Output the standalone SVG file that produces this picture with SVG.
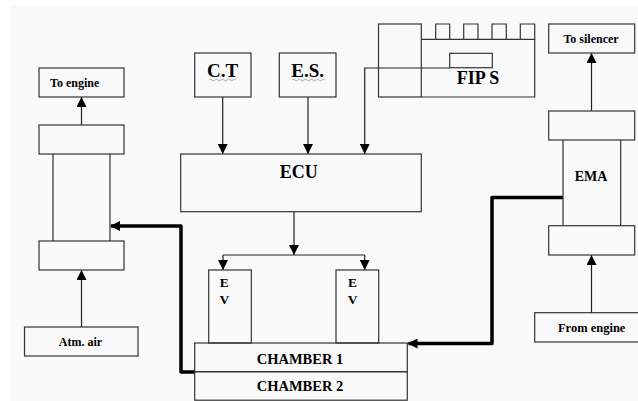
<svg xmlns="http://www.w3.org/2000/svg" width="638" height="401" viewBox="0 0 638 401">
<defs>
<style>
.box{fill:none;stroke:#333;stroke-width:1.2}
.ln{fill:none;stroke:#222;stroke-width:1.2}
.thick{fill:none;stroke:#000;stroke-width:3.5;stroke-linejoin:round}
.t{font-family:"Liberation Serif","Times New Roman",serif;font-weight:bold;fill:#000;text-anchor:middle}
.sq{fill:none;stroke:#999;stroke-width:0.8}
</style>
<marker id="ah" viewBox="0 0 10 10" refX="10" refY="5" markerWidth="10" markerHeight="10" markerUnits="userSpaceOnUse" orient="auto">
<path d="M0,0 L10,5 L0,10 z" fill="#000"/>
</marker>
<marker id="ahT" viewBox="0 0 10 10" refX="9" refY="5" markerWidth="11" markerHeight="10" markerUnits="userSpaceOnUse" orient="auto">
<path d="M0,0 L10,5 L0,10 z" fill="#000"/>
</marker>
</defs>
<rect x="0" y="0" width="638" height="401" fill="#fff"/>
<rect x="10" y="5" width="628" height="396" fill="#f9f9f9"/>

<g id="connectors">
<path class="ln" d="M81.5,125 V97" marker-end="url(#ah)"/>
<path class="ln" d="M81.5,327 V270" marker-end="url(#ah)"/>
<path class="ln" d="M591.5,111 V53" marker-end="url(#ah)"/>
<path class="ln" d="M591.5,313 V255" marker-end="url(#ah)"/>
<path class="ln" d="M222.7,97 V154" marker-end="url(#ah)"/>
<path class="ln" d="M308,97 V154" marker-end="url(#ah)"/>
<path class="ln" d="M449.7,68 H364.7 V154" marker-end="url(#ah)"/>
<path class="ln" d="M294,212 V255" marker-end="url(#ah)"/>
<path class="ln" d="M223,255 H364.7"/>
<path class="ln" d="M223,255 V270" marker-end="url(#ah)"/>
<path class="ln" d="M364.7,255 V270" marker-end="url(#ah)"/>
<path class="thick" d="M195,372 H181 V226 H111" marker-end="url(#ahT)"/>
<path class="thick" d="M563,197.5 H492 V343.5 H408.5" marker-end="url(#ahT)"/>
</g>

<g id="to-engine">
<rect class="box" x="39" y="68" width="85" height="29"/>
<text class="t" x="50" y="87" font-size="12" style="text-anchor:start">To engine</text>
</g>
<g id="intake-column">
<rect class="box" x="39" y="125" width="85" height="29"/>
<path class="box" d="M53,154 V241 M110,154 V241"/>
<rect class="box" x="39" y="241" width="85" height="29"/>
</g>
<g id="atm-air">
<rect class="box" x="24.5" y="327" width="113.5" height="29"/>
<text class="t" x="80.5" y="345.5" font-size="12">Atm. air</text>
</g>

<g id="ct">
<rect class="box" x="194.7" y="53" width="56.3" height="44"/>
<text class="t" x="222.7" y="77" font-size="19">C.T</text>
<path class="sq" d="M209,80 q1.5,-1.5 3,0 t3,0 t3,0 t3,0 t3,0 t3,0 t3,0 t3,0 t3,0"/>
</g>
<g id="es">
<rect class="box" x="279.3" y="53" width="56.7" height="44"/>
<text class="t" x="307.7" y="77" font-size="19">E.S.</text>
<path class="sq" d="M292,80 q1.5,-1.5 3,0 t3,0 t3,0 t3,0 t3,0 t3,0 t3,0 t3,0 t3,0 t3,0 t3,0"/>
</g>

<g id="fip-s">
<rect class="box" x="378.5" y="24" width="42.8" height="73"/>
<path class="box" d="M421.3,39.3 H534.7 V97 H421.3"/>
<path class="box" d="M435.7,39.3 V24 H449.7 V39.3 M463.7,39.3 V24 H478 V39.3 M492,39.3 V24 H506.3 V39.3 M520.3,39.3 V24 H534.7 V39.3"/>
<rect class="box" x="449.7" y="53.3" width="42.6" height="14.4"/>
<text class="t" x="478" y="84" font-size="18">FIP S</text>
</g>

<g id="ecu">
<rect class="box" x="180.7" y="154" width="240.6" height="57.7"/>
<text class="t" x="298.7" y="177.5" font-size="18">ECU</text>
</g>

<g id="ev-left">
<rect class="box" x="208.7" y="270" width="42.6" height="73"/>
<text class="t" x="224.3" y="287" font-size="13.5">E</text>
<text class="t" x="224.3" y="303.5" font-size="13.5">V</text>
</g>
<g id="ev-right">
<rect class="box" x="336" y="270" width="42.7" height="73"/>
<text class="t" x="352.5" y="287" font-size="13.5">E</text>
<text class="t" x="352.5" y="303.5" font-size="13.5">V</text>
</g>

<g id="chamber-1">
<rect class="box" x="194.7" y="343" width="212.6" height="28.7"/>
<text class="t" x="300" y="363.5" font-size="14.5">CHAMBER 1</text>
</g>
<g id="chamber-2">
<rect class="box" x="194.7" y="371.7" width="212.6" height="28.5"/>
<text class="t" x="300" y="391" font-size="14.5">CHAMBER 2</text>
</g>

<g id="to-silencer">
<rect class="box" x="548.7" y="24" width="86" height="29"/>
<text class="t" x="591" y="43.3" font-size="12">To silencer</text>
</g>
<g id="ema">
<rect class="box" x="548.7" y="111" width="86" height="29"/>
<path class="box" d="M563,140 V225.7 M620.7,140 V225.7"/>
<rect class="box" x="548.7" y="225.7" width="86" height="29.3"/>
<text class="t" x="591" y="181" font-size="14">EMA</text>
</g>
<g id="from-engine">
<rect class="box" x="534.7" y="312.7" width="110" height="29.3"/>
<text class="t" x="591.7" y="331.7" font-size="12.5">From engine</text>
</g>
</svg>
